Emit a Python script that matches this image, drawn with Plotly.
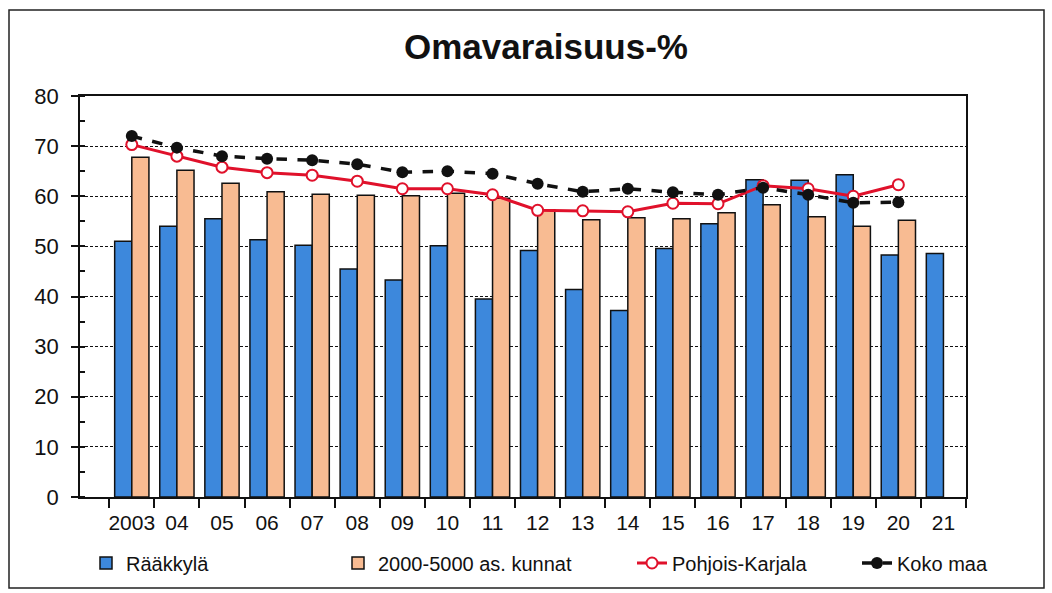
import plotly.graph_objects as go

years = ["2003", "04", "05", "06", "07", "08", "09", "10", "11", "12",
         "13", "14", "15", "16", "17", "18", "19", "20", "21"]
raakkyla = [51.0, 54.0, 55.5, 51.3, 50.2, 45.5, 43.3, 50.1, 39.5, 49.2,
            41.4, 37.2, 49.6, 54.5, 63.3, 63.2, 64.3, 48.3, 48.6]
kunnat = [67.8, 65.2, 62.6, 60.9, 60.4, 60.2, 60.1, 60.6, 59.6, 57.3,
          55.3, 55.7, 55.5, 56.7, 58.3, 55.9, 54.0, 55.2]
pkarjala = [70.3, 68.0, 65.8, 64.7, 64.2, 63.0, 61.5, 61.5, 60.3, 57.2,
            57.1, 56.9, 58.6, 58.5, 62.1, 61.5, 60.0, 62.3]
kokomaa = [72.0, 69.7, 68.0, 67.5, 67.2, 66.4, 64.8, 65.0, 64.5, 62.5,
           60.9, 61.5, 60.8, 60.3, 61.7, 60.3, 58.7, 58.8]

FONT = "Liberation Sans, Arial"

fig = go.Figure()
fig.add_trace(go.Bar(x=years, y=raakkyla, name="Rääkkylä", legend="legend",
                     marker=dict(color="#3d88dc", line=dict(color="#111111", width=1.5))))
fig.add_trace(go.Bar(x=years[:len(kunnat)], y=kunnat, name="2000-5000 as. kunnat",
                     legend="legend2",
                     marker=dict(color="#f8bb92", line=dict(color="#111111", width=1.5))))
fig.add_trace(go.Scatter(x=years[:len(pkarjala)], y=pkarjala, name="Pohjois-Karjala",
                         legend="legend3", mode="lines+markers",
                         line=dict(color="#e0112b", width=3),
                         marker=dict(symbol="circle", size=11, color="white",
                                     line=dict(color="#e0112b", width=2))))
fig.add_trace(go.Scatter(x=years[:len(kokomaa)], y=kokomaa, name="Koko maa",
                         legend="legend4", mode="lines+markers",
                         line=dict(color="#111111", width=3.5, dash="dash"),
                         marker=dict(symbol="circle", size=12, color="#111111")))


def leg(x_px):
    return dict(orientation="h", xref="container", yref="container",
                x=x_px / 1052, xanchor="left", y=(593 - 563) / 593, yanchor="middle",
                font=dict(size=20, family=FONT), bgcolor="rgba(0,0,0,0)")


fig.update_layout(
    width=1052, height=593,
    margin=dict(l=80, r=86, t=96, b=96, autoexpand=False),
    paper_bgcolor="white", plot_bgcolor="white",
    barmode="group", bargap=0.24, bargroupgap=0,
    title=dict(text="<b>Omavaraisuus-%</b>", x=0.519, xanchor="center",
               y=(593 - 47) / 593, yanchor="middle", yref="container",
               font=dict(family=FONT, size=35, color="#111111")),
    font=dict(family=FONT, color="#111111"),
    legend=leg(86), legend2=leg(338), legend3=leg(632), legend4=leg(857),
    showlegend=True,
)
fig.update_xaxes(
    type="category", tickson="boundaries", ticks="outside", ticklen=9,
    tickwidth=1.5, tickcolor="#111111", tickangle=0, automargin=False,
    ticklabelstandoff=6,
    showline=True, linecolor="#111111", linewidth=1.5, mirror=True,
    showgrid=False,
    tickfont=dict(size=21, family=FONT),
)
fig.update_yaxes(
    range=[0, 80], dtick=10, ticks="outside", ticklen=7, tickwidth=1.5,
    tickcolor="#111111", automargin=False, ticklabelstandoff=8,
    showline=True, linecolor="#111111", linewidth=1.5, mirror=True,
    showgrid=True, gridcolor="#111111", gridwidth=1, griddash="3px,2px",
    zeroline=False,
    minor=dict(dtick=5, ticks="inside", ticklen=5, tickcolor="#111111", showgrid=False),
    tickfont=dict(size=22, family=FONT),
)
fig.add_shape(type="rect", xref="paper", yref="paper",
              x0=-71 / 886, x1=(1044 - 80) / 886,
              y0=-(588 - 497) / 401, y1=(497 - 10) / 401,
              line=dict(color="#222222", width=1.5), fillcolor="rgba(0,0,0,0)",
              layer="below")

fig.write_html("out.html", config={"displayModeBar": False},
               post_script="document.body.style.margin='0';document.body.style.overflow='hidden';")
